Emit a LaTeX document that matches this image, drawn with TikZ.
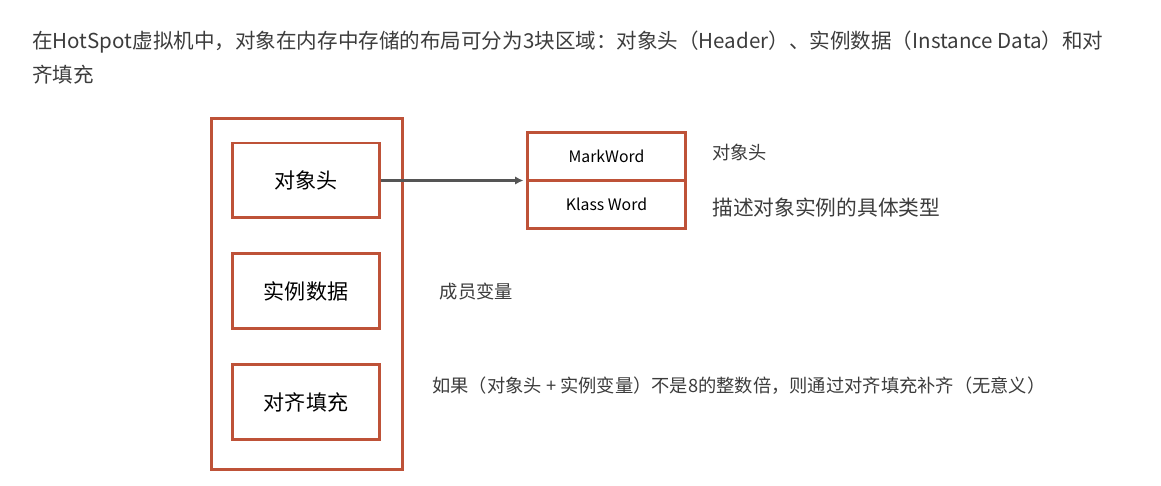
\documentclass[tikz,border=0pt]{standalone}
\usepackage{fontspec}
\setmainfont{Noto Sans CJK SC}
\usepackage{xcolor}
\usetikzlibrary{arrows.meta, positioning}
\definecolor{brick}{RGB}{190,82,56}
\definecolor{ink}{RGB}{60,60,60}
\definecolor{wire}{RGB}{85,85,85}

\begin{document}
\begin{tikzpicture}[
    x=0.02cm, y=-0.02cm,
    node distance=0.66cm,
    frame/.style={rectangle, draw=brick, line width=1.7pt, minimum width=3.84cm, minimum height=7.04cm},
    field/.style={rectangle, draw=brick, line width=1.7pt, fill=white, minimum width=2.96cm, minimum height=1.5cm, align=center, font=\fontsize{12}{14}\selectfont},
    word/.style={rectangle, draw=brick, line width=1.7pt, outer sep=0pt, minimum width=3.18cm, minimum height=0.96cm, align=center, font=\fontsize{9}{11}\selectfont},
    note/.style={anchor=west, inner sep=0pt, text=ink, font=\fontsize{10.4}{12}\selectfont},
    line/.style={draw=wire, line width=1.6pt, -{Latex[length=1.7mm, width=1.7mm]}}
]
    \useasboundingbox (0,0) rectangle (1161,486);

    \node[anchor=north west, align=left, inner sep=0pt, text=ink, font=\fontsize{11.7}{19}\selectfont] (title) at (32,31)
        {在HotSpot虚拟机中，对象在内存中存储的布局可分为3块区域：对象头（Header）、实例数据（Instance Data）和对\\齐填充};

    \node[frame] (obj) at (307,294) {};
    \node[field] (head) at (306,180.5) {对象头};
    \node[field, below=of head] (body) {实例数据};
    \node[field, below=of body] (pad) {对齐填充};

    \node[word] (mark) at (606.5,156.5) {MarkWord};
    \node[word, below=0pt of mark] (klass) {Klass Word};

    % Notes
    \node[note, right=0.52cm of mark, yshift=0.08cm] (markNote) {对象头};
    \node[note, right=0.52cm of klass, yshift=-0.06cm, font=\fontsize{11.8}{14}\selectfont] (klassNote) {描述对象实例的具体类型};
    \node[note, right=1.16cm of body] (bodyNote) {成员变量};
    \node[note] (padNote) at (432,386) {如果（对象头 + 实例变量）不是8的整数倍，则通过对齐填充补齐（无意义）};

    \draw[line, shorten >=2pt] (head) -- (head -| mark.west);
\end{tikzpicture}
\end{document}
